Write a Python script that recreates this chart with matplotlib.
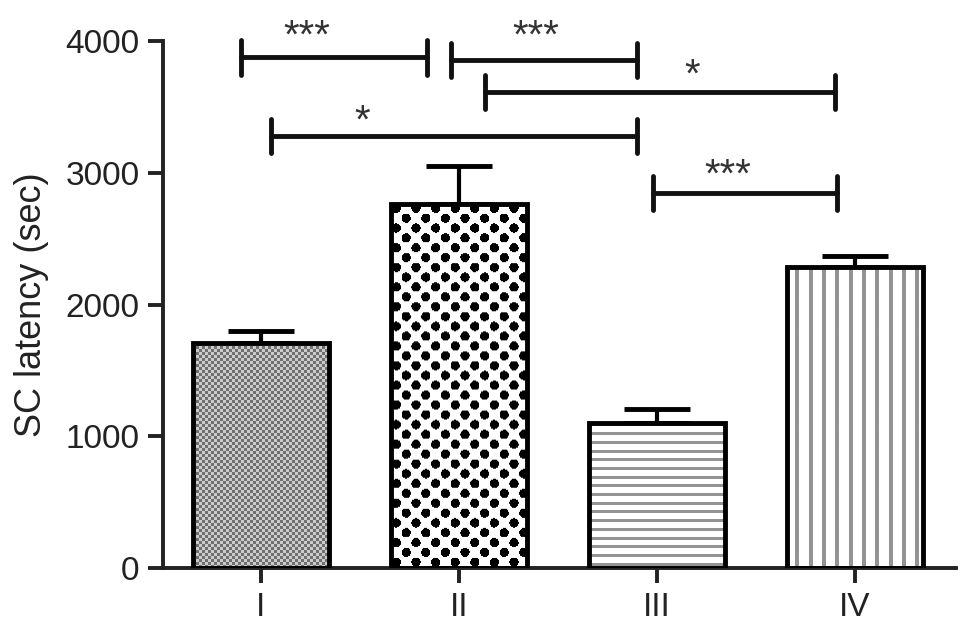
import matplotlib.pyplot as plt
import numpy as np

plt.rcParams['font.family'] = ['Liberation Sans', 'DejaVu Sans']

# data
groups = ['I', 'II', 'III', 'IV']
latency = [1705, 2765, 1100, 2285]
sem = [95, 285, 110, 85]

# significance brackets: (x_start, x_end, y, label, label_x, label_y)
brackets = [
    (-0.10, 0.84, 3875, '***', 0.23, 4120),
    (0.96, 1.90, 3855, '***', 1.39, 4120),
    (1.13, 2.90, 3613, '*', 2.18, 3820),
    (0.05, 1.90, 3280, '*', 0.51, 3476),
    (1.98, 2.91, 2846, '***', 2.36, 3060),
]

# bar fill textures, in screen pixels
def fine_check(yy, xx):
    return np.where(((yy // 3) + (xx // 3)) % 2 == 0, 0.44, 0.80)

def coarse_check(yy, xx):
    c = 9.8
    iy, ix = yy // c, xx // c
    dy, dx = yy - (iy + 0.5) * c, xx - (ix + 0.5) * c
    dark = ((iy + ix) % 2 == 0) & (dx ** 2 + dy ** 2 < 4.6 ** 2)
    return np.where(dark, 0.0, 1.0)

def h_lines(yy, xx):
    return np.where((yy % 8.7) < 3, 0.58, 1.0)

def v_lines(yy, xx):
    return np.where(((xx - 8) % 13.3) < 4, 0.58, 1.0)

textures = [fine_check, coarse_check, h_lines, v_lines]

fig = plt.figure(figsize=(9.7, 6.35), dpi=100)
ax = fig.add_axes([0.168, 0.1055, 0.8175, 0.8299])
ax.set_xlim(-0.495, 3.51)
ax.set_ylim(0, 4000)

x = np.arange(len(groups))
width = 0.69

ax.errorbar(x, latency, yerr=[np.zeros(len(sem)), sem], fmt='none',
            ecolor='black', elinewidth=3, capsize=24, capthick=3.5, zorder=1)

bars = ax.bar(x, latency, width, color='white', edgecolor='black',
              linewidth=3.5, zorder=3)
for b, tex in zip(bars, textures):
    b.set_facecolor('none')
    bb = b.get_window_extent()
    ny, nx = int(round(bb.height)), int(round(bb.width))
    yy, xx = np.mgrid[0:ny, 0:nx]
    img = tex(yy.astype(float), xx.astype(float))
    x0, y0 = b.get_x(), b.get_y()
    im = ax.imshow(img, extent=(x0, x0 + b.get_width(), y0, y0 + b.get_height()),
                   origin='upper', cmap='gray', vmin=0, vmax=1,
                   interpolation='bilinear', aspect='auto', zorder=2)
    im.set_clip_path(b)

tick_h = 130
for x0, x1, y, lab, lx, ly in brackets:
    ax.plot([x0, x1], [y, y], color='#111111', lw=3.5, clip_on=False,
            solid_capstyle='round', zorder=4)
    for xe in (x0, x1):
        ax.plot([xe, xe], [y - tick_h, y + tick_h], color='#111111', lw=3.5,
                clip_on=False, solid_capstyle='round', zorder=4)
    ax.annotate(lab, (lx, ly), xytext=(0, -16), textcoords='offset points',
                ha='center', va='baseline', fontsize=29, color='#333333',
                annotation_clip=False)

ax.set_xlim(-0.495, 3.51)
ax.set_ylim(0, 4000)
ax.set_yticks([0, 1000, 2000, 3000, 4000])
ax.set_xticks(x)
ax.set_xticklabels(groups)
ax.set_ylabel('SC latency (sec)', fontsize=26, color='#222222', labelpad=12)

for s in ['top', 'right']:
    ax.spines[s].set_visible(False)
for s in ['left', 'bottom']:
    ax.spines[s].set_linewidth(2.8)
    ax.spines[s].set_color('#222222')
ax.tick_params(axis='both', length=11, width=2.8, color='#222222',
               labelsize=24, labelcolor='#222222', pad=6)

fig.savefig('out.png', dpi=100)
